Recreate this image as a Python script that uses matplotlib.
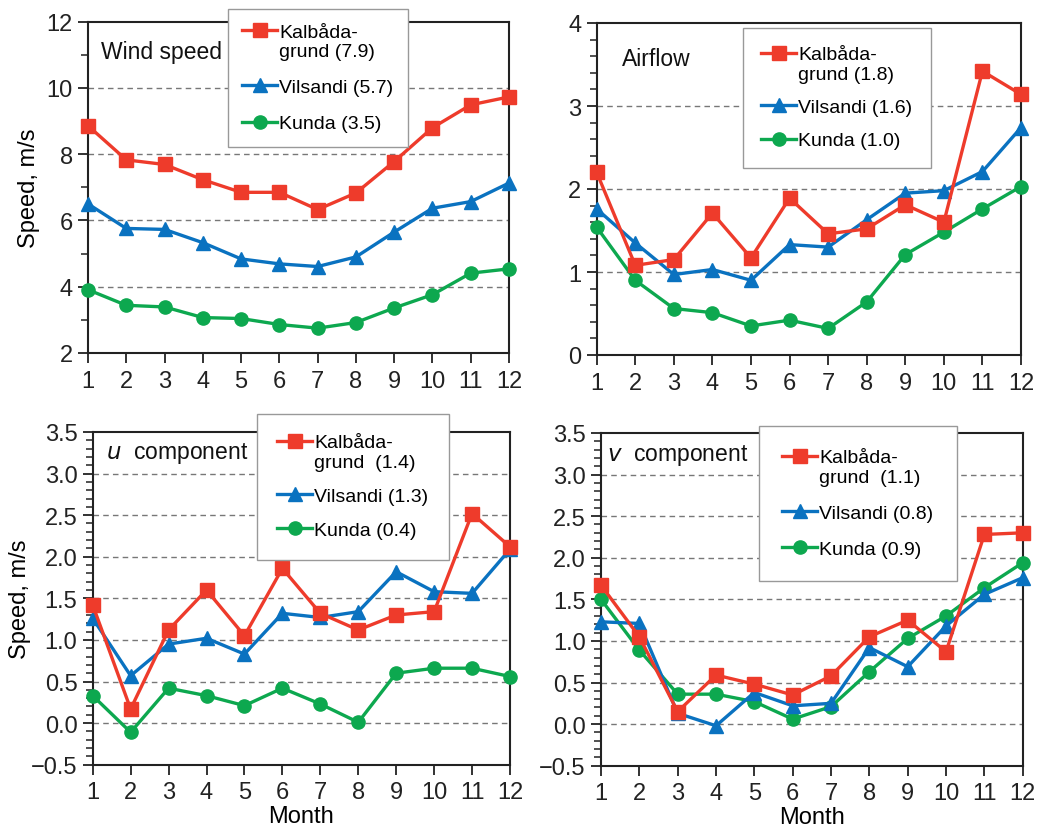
import numpy as np
import matplotlib
matplotlib.use("Agg")
import matplotlib.pyplot as plt
from matplotlib.ticker import MultipleLocator, FormatStrFormatter
from matplotlib.legend_handler import HandlerLine2D

plt.rcParams['font.family'] = ['Liberation Sans', 'DejaVu Sans']

months = list(range(1, 13))

# Wind speed
ws_kal = [8.86, 7.83, 7.69, 7.23, 6.85, 6.85, 6.33, 6.83, 7.78, 8.80, 9.49, 9.73]
ws_vil = [6.50, 5.76, 5.73, 5.33, 4.84, 4.69, 4.61, 4.90, 5.65, 6.37, 6.57, 7.13]
ws_kun = [3.91, 3.44, 3.39, 3.07, 3.04, 2.86, 2.75, 2.92, 3.36, 3.76, 4.41, 4.54]
# Airflow
af_kal = [2.20, 1.08, 1.15, 1.71, 1.17, 1.89, 1.46, 1.52, 1.81, 1.60, 3.42, 3.14]
af_vil = [1.76, 1.35, 0.97, 1.03, 0.90, 1.33, 1.30, 1.63, 1.95, 1.98, 2.21, 2.74]
af_kun = [1.54, 0.90, 0.56, 0.51, 0.35, 0.42, 0.32, 0.64, 1.21, 1.48, 1.76, 2.03]
# u component
u_kal = [1.42, 0.17, 1.12, 1.60, 1.05, 1.86, 1.32, 1.12, 1.30, 1.34, 2.52, 2.12]
u_vil = [1.26, 0.57, 0.95, 1.02, 0.83, 1.32, 1.27, 1.34, 1.82, 1.58, 1.56, 2.09]
u_kun = [0.33, -0.11, 0.42, 0.33, 0.21, 0.42, 0.23, 0.01, 0.60, 0.66, 0.66, 0.56]
# v component
v_kal = [1.67, 1.05, 0.15, 0.59, 0.48, 0.35, 0.58, 1.05, 1.25, 0.87, 2.28, 2.30]
v_vil = [1.23, 1.21, 0.13, -0.02, 0.38, 0.22, 0.25, 0.92, 0.69, 1.18, 1.56, 1.76]
v_kun = [1.50, 0.89, 0.36, 0.36, 0.27, 0.06, 0.21, 0.63, 1.03, 1.30, 1.64, 1.94]

titles = ["Wind speed", "Airflow", "$u$  component", "$v$  component"]
labels = [
    ["Kalbåda-\ngrund (7.9)", "Vilsandi (5.7)", "Kunda (3.5)"],
    ["Kalbåda-\ngrund (1.8)", "Vilsandi (1.6)", "Kunda (1.0)"],
    ["Kalbåda-\ngrund  (1.4)", "Vilsandi (1.3)", "Kunda (0.4)"],
    ["Kalbåda-\ngrund  (1.1)", "Vilsandi (0.8)", "Kunda (0.9)"],
]
data = [
    (ws_kal, ws_vil, ws_kun),
    (af_kal, af_vil, af_kun),
    (u_kal, u_vil, u_kun),
    (v_kal, v_vil, v_kun),
]

RED = '#EE3B2B'
BLUE = '#0A72C0'
GREEN = '#0DA84F'
colors = [RED, BLUE, GREEN]
markers = ['s', '^', 'o']

W, H = 1037, 837
fig = plt.figure(figsize=(W / 100, H / 100), dpi=100)

# axes rectangles in pixels: left, top, right, bottom
rects = [
    (88, 22.7, 509, 354),
    (596.7, 24, 1021, 356),
    (92.7, 433, 510, 765.7),
    (601, 434, 1022.7, 766.7),
]
ylims = [(2, 12), (0, 4), (-0.5, 3.5), (-0.5, 3.5)]
ymaj = [2, 1, 0.5, 0.5]
ymin = [1, 0.2, 0.1, 0.1]
yfmt = ['%d', '%d', '%.1f', '%.1f']
# legend frame (pixels): left, top
leg_pos = [(227.7, 10), (742.7, 29), (256.7, 415), (759, 426.7)]
leg_bpad = [0.75, 0.95, 1.05, 1.2]
leg_lspace = [0.95, 0.8, 0.85, 0.95]
title_pos = [(101, 53), (621.7, 60), (106, 454), (607, 456)]
ylabpad = [5, 0]
FS = 17


class TopHandler(HandlerLine2D):
    def __init__(self, offset=0, **kw):
        super().__init__(**kw)
        self.offset = offset

    def create_artists(self, legend, orig_handle, xdescent, ydescent,
                       width, height, fontsize, trans):
        arts = super().create_artists(legend, orig_handle, xdescent, ydescent,
                                      width, height, fontsize, trans)
        for a in arts:
            a.set_ydata(np.asarray(a.get_ydata()) + self.offset)
        return arts


for i in range(4):
    l, t, r, b = rects[i]
    ax = fig.add_axes([l / W, 1 - b / H, (r - l) / W, (b - t) / H])
    lines = []
    for j in range(3):
        ln, = ax.plot(months, data[i][j], color=colors[j], marker=markers[j],
                      lw=2.4, ms=9.5 if j != 1 else 10.5, zorder=3 + (2 - j) * 0.1,
                      clip_on=False)
        lines.append(ln)
    ax.set_xlim(1, 12)
    ax.set_ylim(*ylims[i])
    ax.set_xticks(months)
    ax.yaxis.set_major_locator(MultipleLocator(ymaj[i]))
    ax.yaxis.set_minor_locator(MultipleLocator(ymin[i]))
    ax.yaxis.set_major_formatter(FormatStrFormatter(yfmt[i]))
    if i >= 2:
        ax.set_yticklabels([('%.1f' % v).replace('-', '\u2212') for v in ax.get_yticks()])
    ax.tick_params(axis='both', which='major', direction='out', length=7,
                   width=1.3, labelsize=FS, pad=4, colors='#222222')
    ax.tick_params(axis='y', which='minor', direction='out', length=5, width=1.1,
                   colors='#222222')
    ax.tick_params(axis='x', which='major', pad=5)
    for s in ax.spines.values():
        s.set_linewidth(1.5)
        s.set_color('#222222')
    lo, hi = ylims[i]
    for g in ax.get_yticks():
        if lo < g < hi:
            ax.axhline(g, color='#777777', lw=1.0, ls=(0, (4, 3)), zorder=1)
    if i % 2 == 0:
        ax.set_ylabel('Speed, m/s', fontsize=FS, labelpad=ylabpad[i // 2])
    if i >= 2:
        ax.set_xlabel('Month', fontsize=FS, labelpad=1)

    tx, ty = title_pos[i]
    fig.text(tx / W, 1 - ty / H, titles[i], fontsize=16.5, ha='left', va='center',
             color='#111111')

    lx, ly = leg_pos[i]
    leg = ax.legend(lines, labels[i], loc='upper left',
                    bbox_to_anchor=(lx / W, 1 - ly / H), bbox_transform=fig.transFigure,
                    fontsize=14, frameon=True, fancybox=False, framealpha=1,
                    edgecolor='#999999', borderpad=leg_bpad[i],
                    labelspacing=leg_lspace[i],
                    handlelength=1.8, handletextpad=0.1, borderaxespad=0,
                    handler_map={lines[0]: TopHandler(offset=8)})
    leg.get_frame().set_linewidth(1.0)
    leg.set_zorder(10)

fig.savefig('out.png', dpi=100)
